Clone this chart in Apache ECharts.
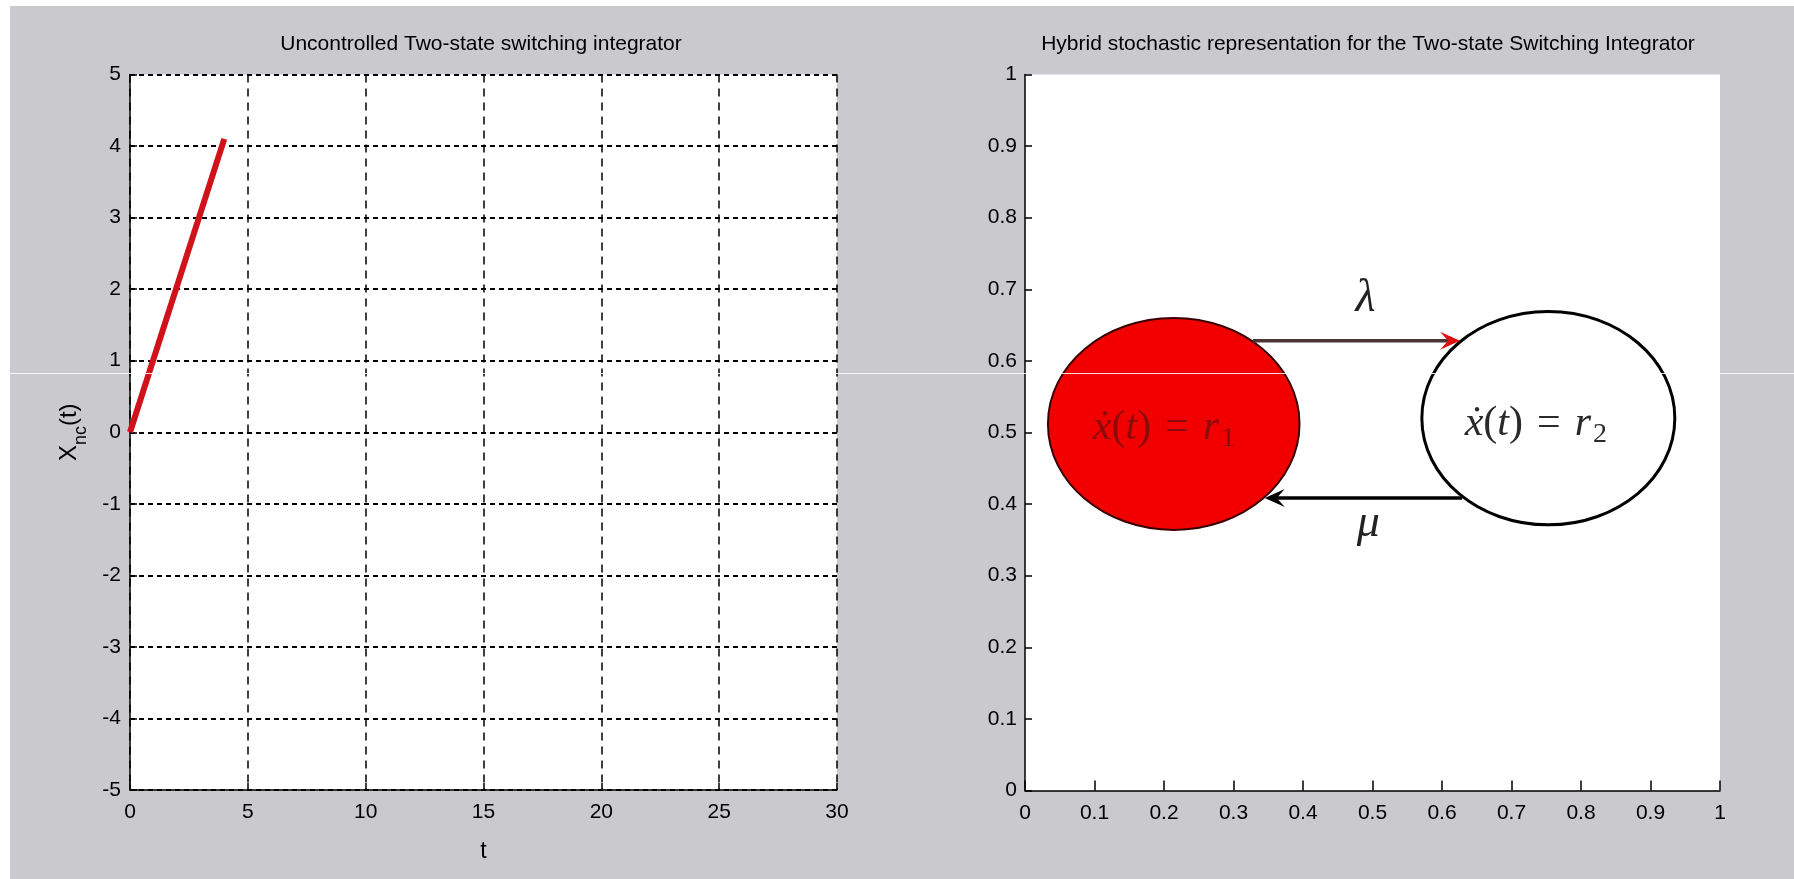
<!DOCTYPE html>
<html><head><meta charset="utf-8">
<script src="https://cdn.jsdelivr.net/npm/echarts@6/dist/echarts.min.js"></script>
<style>html,body{margin:0;padding:0;background:#fff}#c{width:1794px;height:879px}</style>
</head><body><div id="c"></div>
<script>
// ---- data ----
const titles = ['Uncontrolled Two-state switching integrator', 'Hybrid stochastic representation for the Two-state Switching Integrator'];
const tValues = [0, 4];
const xncValues = [0, 4.1];
const leftXRange = [0, 30, 5];
const leftYRange = [-5, 5, 1];
const rightXRange = [0, 1, 0.1];
const rightYRange = [0, 1, 0.1];

const stateX = [0.214, 0.753];
const stateY = [0.512, 0.520];
const stateRx = [0.181, 0.182];
const stateRy = [0.148, 0.149];
const stateSub = ['1', '2'];
const stateLabelX = [0.2, 0.735];
const stateLabelY = [0.507, 0.512];

const arrowFromX = [0.328, 0.629];
const arrowToX = [0.626, 0.345];
const arrowY = [0.628, 0.4085];
const arrowNames = ['λ', 'μ'];
const arrowLabelX = [0.49, 0.494];
const arrowLabelY = [0.686, 0.372];

// ---- styles ----
const FONT = "'Liberation Sans Narrow', 'Arial Narrow', 'Liberation Sans', Arial, sans-serif";
const SERIF = "'Liberation Serif', 'DejaVu Serif', serif";
const stateFill = ['#f20000', '#ffffff'];
const stateStroke = ['#3a0000', '#000000'];
const stateStrokeW = [2, 3];
const stateTextColor = ['#8c0a0a', '#2a2a2a'];
const arrowLineColor = ['#4a3434', '#000000'];
const arrowHeadColor = ['#e01010', '#000000'];

const chart = echarts.init(document.getElementById('c'));

const axisLabelStyle = {color: '#000', fontSize: 21, fontFamily: FONT};

function eqText(sub) {
  return '{i|ẋ}{n|(}{i|t}{n|)}{e|=}{i|r}{s|' + sub + '}';
}

const option = {
  animation: false,
  backgroundColor: '#c9c9ce',
  title: [
    {text: titles[0], left: 481, top: 34, textAlign: 'center', padding: 0,
     textStyle: {fontSize: 21, fontWeight: 'normal', color: '#000', fontFamily: FONT}},
    {text: titles[1], left: 1368, top: 34, textAlign: 'center', padding: 0,
     textStyle: {fontSize: 21, fontWeight: 'normal', color: '#000', fontFamily: FONT}}
  ],
  grid: [
    {left: 130, top: 74.5, width: 707, height: 715.5, show: true, backgroundColor: '#fff', borderWidth: 0},
    {left: 1025, top: 74.5, width: 695, height: 716, show: true, backgroundColor: '#fff', borderWidth: 0}
  ],
  xAxis: [
    {type: 'value', gridIndex: 0, min: leftXRange[0], max: leftXRange[1], interval: leftXRange[2],
     axisLine: {show: true, onZero: false, lineStyle: {color: '#000', width: 1.5}},
     axisTick: {show: true, inside: true, length: 7, lineStyle: {color: '#000', width: 1.5}},
     axisLabel: Object.assign({margin: 12}, axisLabelStyle),
     splitLine: {show: true, lineStyle: {color: '#000', width: 1.5, type: [8, 6]}},
     name: 't', nameLocation: 'middle', nameGap: 50,
     nameTextStyle: {color: '#000', fontSize: 23, fontFamily: FONT}},
    {type: 'value', gridIndex: 1, min: rightXRange[0], max: rightXRange[1], interval: rightXRange[2],
     axisLine: {show: true, onZero: false, lineStyle: {color: '#000', width: 1.5}},
     axisTick: {show: true, inside: true, length: 10, lineStyle: {color: '#000', width: 1.5}},
     axisLabel: Object.assign({margin: 12}, axisLabelStyle),
     splitLine: {show: false}}
  ],
  yAxis: [
    {type: 'value', gridIndex: 0, min: leftYRange[0], max: leftYRange[1], interval: leftYRange[2],
     axisLine: {show: true, onZero: false, lineStyle: {color: '#000', width: 1.5}},
     axisTick: {show: true, inside: true, length: 7, lineStyle: {color: '#000', width: 1.5}},
     axisLabel: Object.assign({margin: 9}, axisLabelStyle),
     splitLine: {show: true, lineStyle: {color: '#000', width: 2, type: [5, 4]}},
     name: '{a|X}{b|nc}{a|(t)}', nameLocation: 'middle', nameGap: 40,
     nameTextStyle: {color: '#000', fontFamily: FONT,
       rich: {a: {fontSize: 24, fontFamily: FONT, color: '#000'},
              b: {fontSize: 18, fontFamily: FONT, color: '#000', padding: [24, 0, 0, 0]}}}},
    {type: 'value', gridIndex: 1, min: rightYRange[0], max: rightYRange[1], interval: rightYRange[2],
     axisLine: {show: true, onZero: false, lineStyle: {color: '#000', width: 1.5}},
     axisTick: {show: true, inside: true, length: 7, lineStyle: {color: '#000', width: 1.5}},
     axisLabel: Object.assign({margin: 8}, axisLabelStyle),
     splitLine: {show: false}}
  ],
  graphic: [
    {type: 'rect', shape: {x: 0, y: 0, width: 10, height: 879}, style: {fill: '#fff'}, z: -10, silent: true},
    {type: 'rect', shape: {x: 0, y: 0, width: 1794, height: 6}, style: {fill: '#fff'}, z: -10, silent: true},
    {type: 'line', shape: {x1: 10, y1: 373.5, x2: 1794, y2: 373.5}, style: {stroke: 'rgba(255,255,255,0.85)', lineWidth: 1}, z: 100, silent: true}
  ],
  series: [
    {type: 'line', xAxisIndex: 0, yAxisIndex: 0, symbol: 'none', z: 5,
     lineStyle: {color: '#d0121b', width: 6},
     data: tValues.map((t, i) => [t, xncValues[i]])},
    {type: 'custom', xAxisIndex: 1, yAxisIndex: 1, z: 2,
     data: stateX.map((x, i) => [x, stateY[i], stateRx[i], stateRy[i]]),
     renderItem: function (params, api) {
       const i = params.dataIndex;
       const c = api.coord([api.value(0), api.value(1)]);
       const e = api.coord([api.value(0) + api.value(2), api.value(1) + api.value(3)]);
       return {type: 'ellipse', shape: {cx: c[0], cy: c[1], rx: e[0] - c[0], ry: c[1] - e[1]},
               style: {fill: stateFill[i], stroke: stateStroke[i], lineWidth: stateStrokeW[i]}};
     }},
    {type: 'custom', xAxisIndex: 1, yAxisIndex: 1, z: 3,
     data: arrowFromX.map((x, i) => [x, arrowY[i], arrowToX[i], arrowY[i]]),
     renderItem: function (params, api) {
       const i = params.dataIndex;
       const p1 = api.coord([api.value(0), api.value(1)]);
       const p2 = api.coord([api.value(2), api.value(3)]);
       const dx = p2[0] - p1[0], dy = p2[1] - p1[1];
       const len = Math.sqrt(dx * dx + dy * dy);
       const ux = dx / len, uy = dy / len, nx = -uy, ny = ux;
       const L = 20, W = 9, N = 12;
       const head = [
         [p2[0], p2[1]],
         [p2[0] - ux * L + nx * W, p2[1] - uy * L + ny * W],
         [p2[0] - ux * N, p2[1] - uy * N],
         [p2[0] - ux * L - nx * W, p2[1] - uy * L - ny * W]
       ];
       return {type: 'group', children: [
         {type: 'line', shape: {x1: p1[0], y1: p1[1], x2: p2[0] - ux * N, y2: p2[1] - uy * N},
          style: {stroke: arrowLineColor[i], lineWidth: 3.5}},
         {type: 'polygon', shape: {points: head}, style: {fill: arrowHeadColor[i]}}
       ]};
     }},
    {type: 'custom', xAxisIndex: 1, yAxisIndex: 1, z: 4,
     data: stateLabelX.map((x, i) => [x, stateLabelY[i]]),
     renderItem: function (params, api) {
       const i = params.dataIndex;
       const p = api.coord([api.value(0), api.value(1)]);
       const col = stateTextColor[i];
       return {type: 'text', x: p[0], y: p[1],
         style: {text: eqText(stateSub[i]), align: 'center', verticalAlign: 'middle',
           rich: {
             i: {fontFamily: SERIF, fontStyle: 'italic', fontSize: 42, fill: col},
             n: {fontFamily: SERIF, fontSize: 42, fill: col},
             e: {fontFamily: SERIF, fontSize: 42, fill: col, padding: [0, 14, 0, 14]},
             s: {fontFamily: SERIF, fontSize: 28, fill: col, padding: [22, 0, 0, 2]}
           }}};
     }},
    {type: 'custom', xAxisIndex: 1, yAxisIndex: 1, z: 4,
     data: arrowLabelX.map((x, i) => [x, arrowLabelY[i]]),
     renderItem: function (params, api) {
       const i = params.dataIndex;
       const p = api.coord([api.value(0), api.value(1)]);
       return {type: 'text', x: p[0], y: p[1],
         style: {text: arrowNames[i], align: 'center', verticalAlign: 'middle',
           font: 'italic 46px ' + SERIF, fill: '#222'}};
     }}
  ]
};
chart.setOption(option);
</script></body></html>
